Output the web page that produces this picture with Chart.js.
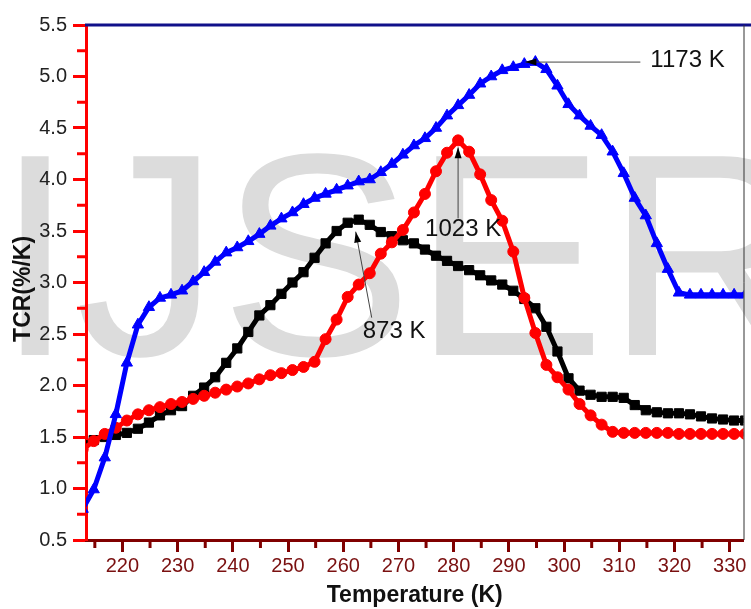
<!DOCTYPE html>
<html>
<head>
<meta charset="utf-8">
<script src="https://cdn.jsdelivr.net/npm/chart.js@4.4.1/dist/chart.umd.min.js"></script>
<style>
  html, body { margin: 0; padding: 0; background: #fff; }
</style>
</head>
<body>
<canvas id="tcrChart" width="751" height="609"></canvas>
<script>
// temperature (K), one reading every 2 K
const temps = [212.8, 214.8, 216.8, 218.8, 220.8, 222.8, 224.8, 226.8, 228.8, 230.8,
  232.8, 234.8, 236.8, 238.8, 240.8, 242.8, 244.8, 246.8, 248.8, 250.8,
  252.8, 254.8, 256.8, 258.8, 260.8, 262.8, 264.8, 266.8, 268.8, 270.8,
  272.8, 274.8, 276.8, 278.8, 280.8, 282.8, 284.8, 286.8, 288.8, 290.8,
  292.8, 294.8, 296.8, 298.8, 300.8, 302.8, 304.8, 306.8, 308.8, 310.8,
  312.8, 314.8, 316.8, 318.8, 320.8, 322.8, 324.8, 326.8, 328.8, 330.8, 332.8];

// TCR (%/K) for the three annealing temperatures
const tcr873 = [1.42, 1.47, 1.50, 1.52, 1.54, 1.58, 1.64, 1.71, 1.76, 1.80,
  1.90, 1.98, 2.08, 2.22, 2.36, 2.52, 2.68, 2.78, 2.89, 3.00,
  3.10, 3.24, 3.38, 3.50, 3.58, 3.61, 3.56, 3.49, 3.45, 3.41,
  3.38, 3.32, 3.26, 3.21, 3.16, 3.12, 3.07, 3.02, 2.98, 2.92,
  2.84, 2.75, 2.57, 2.33, 2.07, 1.95, 1.91, 1.89, 1.89, 1.88,
  1.81, 1.76, 1.74, 1.73, 1.73, 1.72, 1.70, 1.68, 1.67, 1.66, 1.66];

const tcr1023 = [1.38, 1.46, 1.53, 1.59, 1.66, 1.72, 1.76, 1.79, 1.82, 1.84,
  1.87, 1.90, 1.93, 1.96, 1.99, 2.02, 2.06, 2.10, 2.12, 2.15,
  2.18, 2.23, 2.45, 2.64, 2.86, 2.98, 3.09, 3.28, 3.39, 3.51,
  3.68, 3.86, 4.08, 4.26, 4.38, 4.27, 4.05, 3.80, 3.60, 3.30,
  2.85, 2.51, 2.20, 2.08, 1.96, 1.82, 1.71, 1.62, 1.55, 1.54,
  1.54, 1.54, 1.54, 1.54, 1.53, 1.53, 1.53, 1.53, 1.53, 1.53, 1.53];

const tcr1173 = [0.80, 0.99, 1.30, 1.72, 2.22, 2.59, 2.76, 2.85, 2.88, 2.92,
  3.01, 3.10, 3.20, 3.29, 3.34, 3.40, 3.47, 3.55, 3.62, 3.68,
  3.76, 3.82, 3.86, 3.90, 3.94, 3.98, 4.00, 4.07, 4.15, 4.24,
  4.33, 4.40, 4.50, 4.62, 4.72, 4.82, 4.93, 5.00, 5.06, 5.09,
  5.12, 5.14, 5.07, 4.91, 4.73, 4.62, 4.52, 4.43, 4.27, 4.06,
  3.82, 3.65, 3.38, 3.13, 2.90, 2.88, 2.88, 2.88, 2.88, 2.88, 2.88];

const seriesLabels = ['873 K', '1023 K', '1173 K'];
const xTickVals = [220, 230, 240, 250, 260, 270, 280, 290, 300, 310, 320, 330];
const yTickVals = [0.5, 1.0, 1.5, 2.0, 2.5, 3.0, 3.5, 4.0, 4.5, 5.0, 5.5];

const FONT = "'Liberation Sans', Arial, sans-serif";

function toPoints(ys) {
  return temps.map(function (t, i) { return { x: t, y: ys[i] }; });
}

// journal watermark behind everything
const watermark = {
  id: 'watermark',
  beforeDraw(chart) {
    const ctx = chart.ctx;
    ctx.save();
    ctx.fillStyle = '#fff';
    ctx.fillRect(0, 0, chart.width, chart.height);
    ctx.fillStyle = '#dcdcdc';
    ctx.font = '289px ' + FONT;
    ctx.textBaseline = 'alphabetic';
    ctx.fillText('IJSER', -5, 355);
    ctx.restore();
  }
};

// minor ticks and the top / right frame lines
const frame = {
  id: 'frame',
  afterDraw(chart) {
    const ctx = chart.ctx;
    const a = chart.chartArea;
    const xs = chart.scales.x, ys = chart.scales.y;
    ctx.save();
    ctx.lineWidth = 3;
    ctx.strokeStyle = '#800000';
    const xv = xs.ticks.map(t => t.value);
    const step = xv[1] - xv[0];
    for (let v = xv[0] - step / 2; v <= xs.max; v += step) {
      if (v < xs.min) continue;
      const p = xs.getPixelForValue(v);
      ctx.beginPath(); ctx.moveTo(p, a.bottom); ctx.lineTo(p, a.bottom + 8); ctx.stroke();
    }
    ctx.strokeStyle = '#ff0000';
    const yv = ys.ticks.map(t => t.value);
    const ystep = yv[1] - yv[0];
    for (let v = yv[0] + ystep / 2; v < ys.max; v += ystep) {
      const p = ys.getPixelForValue(v);
      ctx.beginPath(); ctx.moveTo(a.left, p); ctx.lineTo(a.left - 9, p); ctx.stroke();
    }
    ctx.strokeStyle = '#10108a';
    ctx.beginPath(); ctx.moveTo(a.left - 1, a.top); ctx.lineTo(chart.width, a.top); ctx.stroke();
    ctx.lineWidth = 1;
    ctx.strokeStyle = '#333';
    ctx.beginPath(); ctx.moveTo(a.right + 0.5, a.top); ctx.lineTo(a.right + 0.5, a.bottom); ctx.stroke();
    ctx.restore();
  }
};

function arrow(ctx, x1, y1, x2, y2) {
  ctx.strokeStyle = '#444';
  ctx.lineWidth = 1;
  ctx.beginPath(); ctx.moveTo(x1, y1); ctx.lineTo(x2, y2); ctx.stroke();
  const ang = Math.atan2(y2 - y1, x2 - x1);
  const L = 11, W = 3.5;
  ctx.fillStyle = '#000';
  ctx.beginPath();
  ctx.moveTo(x2, y2);
  ctx.lineTo(x2 - L * Math.cos(ang) + W * Math.sin(ang), y2 - L * Math.sin(ang) - W * Math.cos(ang));
  ctx.lineTo(x2 - L * Math.cos(ang) - W * Math.sin(ang), y2 - L * Math.sin(ang) + W * Math.cos(ang));
  ctx.closePath();
  ctx.fill();
}

// peak labels with arrows
const peaks = {
  id: 'peaks',
  afterDatasetsDraw(chart) {
    const ctx = chart.ctx;
    const xs = chart.scales.x, ys = chart.scales.y;
    const series = [tcr873, tcr1023, tcr1173];
    const pk = series.map(function (s) {
      const i = s.indexOf(Math.max.apply(null, s));
      return { x: xs.getPixelForValue(temps[i]), y: ys.getPixelForValue(s[i]) };
    });
    ctx.save();
    // 873 K
    arrow(ctx, pk[0].x + 13, pk[0].y + 98, pk[0].x - 3, pk[0].y + 12);
    // 1023 K
    arrow(ctx, pk[1].x, pk[1].y + 78, pk[1].x, pk[1].y + 7);
    // 1173 K
    arrow(ctx, pk[2].x + 105, pk[2].y, pk[2].x - 10, pk[2].y);
    ctx.fillStyle = '#111';
    ctx.font = '24px ' + FONT;
    ctx.textAlign = 'left';
    ctx.textBaseline = 'middle';
    ctx.fillText(seriesLabels[0], pk[0].x + 4, pk[0].y + 112);
    ctx.fillText(seriesLabels[1], pk[1].x - 33, pk[1].y + 89);
    ctx.fillText(seriesLabels[2], pk[2].x + 115, pk[2].y - 2);
    ctx.restore();
  }
};

const ctx = document.getElementById('tcrChart').getContext('2d');
const chart = new Chart(ctx, {
  type: 'line',
  data: {
    datasets: [{
      label: seriesLabels[0],
      data: toPoints(tcr873),
      borderColor: '#000',
      backgroundColor: '#000',
      borderWidth: 5,
      pointStyle: 'rect',
      pointRadius: 6.5,
      pointBorderWidth: 1,
      order: 3
    }, {
      label: seriesLabels[1],
      data: toPoints(tcr1023),
      borderColor: '#ff0000',
      backgroundColor: '#ff0000',
      borderWidth: 5,
      pointStyle: 'circle',
      pointRadius: 5.5,
      pointBorderWidth: 1,
      order: 2
    }, {
      label: seriesLabels[2],
      data: toPoints(tcr1173),
      borderColor: '#0000ff',
      backgroundColor: '#0000ff',
      borderWidth: 5,
      pointStyle: 'triangle',
      pointRadius: 6.5,
      pointBorderWidth: 1,
      order: 1
    }]
  },
  options: {
    responsive: false,
    animation: false,
    layout: { padding: { top: 25, right: 1, left: 0, bottom: 0 } },
    plugins: { legend: { display: false }, tooltip: { enabled: false } },
    elements: { line: { tension: 0 } },
    scales: {
      x: {
        type: 'linear',
        min: 213.4,
        max: 332.5,
        afterBuildTicks: function (s) { s.ticks = xTickVals.map(v => ({ value: v })); },
        afterFit: function (s) { s.height = 69; s.paddingLeft = 0; s.paddingRight = 0; },
        ticks: {
          color: '#7a1010',
          font: { size: 20, family: FONT },
          padding: 2,
          maxRotation: 0,
          autoSkip: false,
          callback: v => String(v)
        },
        grid: { drawOnChartArea: false, tickLength: 12, tickWidth: 3, tickColor: '#800000' },
        border: { color: '#800000', width: 3 },
        title: {
          display: true,
          text: 'Temperature (K)',
          color: '#111',
          font: { size: 23, weight: 'bold', family: FONT },
          padding: 0
        }
      },
      y: {
        min: 0.5,
        max: 5.5,
        afterBuildTicks: function (s) { s.ticks = yTickVals.map(v => ({ value: v })); },
        afterFit: function (s) { s.width = 86; },
        ticks: {
          color: '#222',
          font: { size: 20, family: FONT },
          padding: 6,
          callback: v => Number(v).toFixed(1)
        },
        grid: { drawOnChartArea: false, tickLength: 13, tickWidth: 3, tickColor: '#ff0000' },
        border: { color: '#ff0000', width: 3 },
        title: {
          display: true,
          text: 'TCR(%/K)  ',
          color: '#111',
          font: { size: 23, weight: 'bold', family: FONT },
          padding: { top: 10, bottom: 0 }
        }
      }
    }
  },
  plugins: [watermark, frame, peaks]
});
</script>
</body>
</html>
